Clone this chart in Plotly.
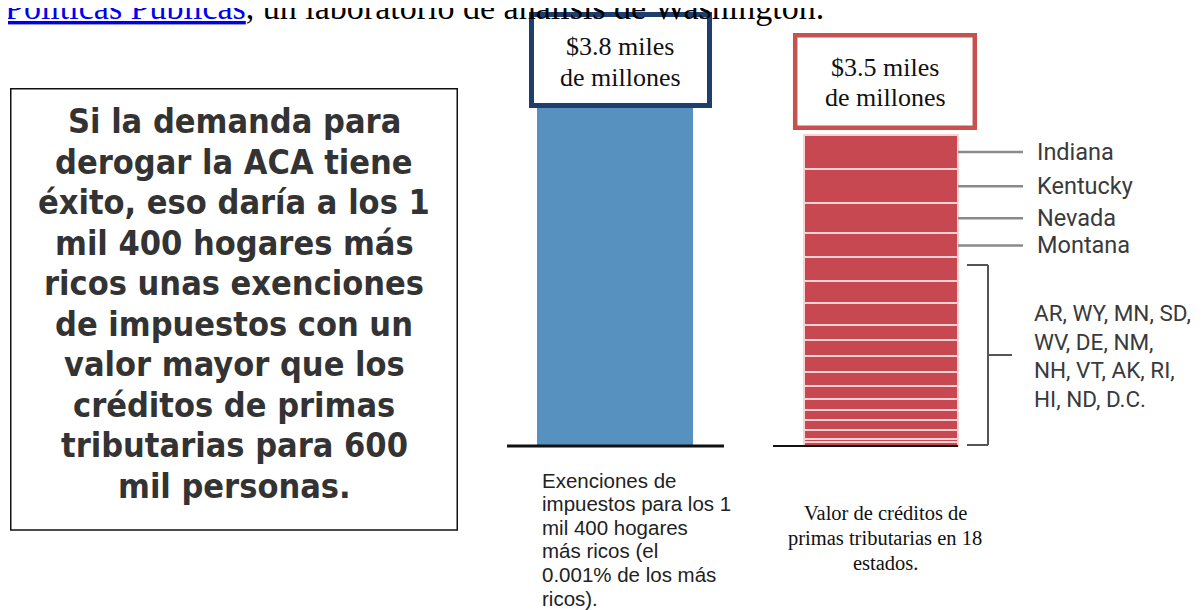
import plotly.graph_objects as go

# ---------------- data ----------------
categories = ["Exenciones de impuestos", "Créditos de primas tributarias"]
exenciones_value = [3.8]          # miles de millones USD
creditos_total = 3.5              # miles de millones USD

named_states = ["Indiana", "Kentucky", "Nevada", "Montana"]
named_values = [0.39, 0.38, 0.34, 0.27]
group_states = ["AR", "WY", "MN", "SD", "WV", "DE", "NM",
                "NH", "VT", "AK", "RI", "HI", "ND", "D.C."]
group_values = [0.27, 0.24, 0.25, 0.17, 0.18, 0.18, 0.15,
                0.15, 0.13, 0.11, 0.11, 0.10, 0.04, 0.04]

box_blue_lines = ["$3.8 miles", "de millones"]
box_red_lines = ["$3.5 miles", "de millones"]
caption_blue = ["Exenciones de", "impuestos para los 1", "mil 400 hogares",
                "más ricos (el", "0.001% de los más", "ricos)."]
caption_red = ["Valor de créditos de", "primas tributarias en 18", "estados."]
group_label_lines = ["AR, WY, MN, SD,", "WV, DE, NM,", "NH, VT, AK, RI,", "HI, ND, D.C."]
side_text = ["Si la demanda para", "derogar la ACA tiene", "éxito, eso daría a los 1",
             "mil 400 hogares más", "ricos unas exenciones", "de impuestos con un",
             "valor mayor que los", "créditos de primas", "tributarias para 600",
             "mil personas."]
top_text = ('<span style="color:#0000ee"><u>Políticas Públicas</u></span>'
            ', un laboratorio de análisis de Washington.')

# ---------------- layout helpers ----------------
W, H = 1204, 610
OFF = 8  # page body margin: figure is drawn 8px right/down in the window
def px(x):
    return (x - OFF) / W
def py(y):
    return 1 - (y - OFF) / H

BLUE = "#5691c0"
RED = "#c84851"

fig = go.Figure()

fig.add_trace(go.Bar(x=[categories[0]], y=exenciones_value, width=0.586,
                     marker=dict(color=BLUE, line=dict(width=0)),
                     hoverinfo="skip"))

all_states = named_states + group_states
all_values = named_values + group_values
# stack from bottom: last state first
for name, val in list(zip(all_states, all_values))[::-1]:
    fig.add_trace(go.Bar(x=[categories[1]], y=[val], width=0.579, name=name,
                         marker=dict(color=RED, line=dict(color="#f7d3d3", width=2)),
                         hoverinfo="skip"))

fig.update_layout(
    width=W, height=H, margin=dict(l=0, r=0, t=0, b=0),
    paper_bgcolor="white", plot_bgcolor="white",
    barmode="stack", showlegend=False,
    xaxis=dict(type="category", range=[-2.2820, 2.2444], visible=False, fixedrange=True),
    yaxis=dict(range=[-1.9337, 4.9243], visible=False, fixedrange=True),
)

shapes = []
# baselines
shapes.append(dict(type="line", xref="paper", yref="y", x0=px(507), x1=px(724), y0=0, y1=0,
                   line=dict(color="#111111", width=3)))
shapes.append(dict(type="line", xref="paper", yref="y", x0=px(773), x1=px(958), y0=0, y1=0,
                   line=dict(color="#111111", width=2)))

# leader lines for named states (at segment centres)
top = creditos_total
centers = []
for v in named_values:
    centers.append(top - v / 2)
    top -= v
for c in centers:
    shapes.append(dict(type="line", xref="paper", yref="y", x0=px(958), x1=px(1023), y0=c, y1=c,
                       line=dict(color="#8a8a8a", width=2.5)))

# bracket for the grouped states
g_top = sum(group_values) - 0.085
g_bot = 0.011
g_mid = (g_top + g_bot) / 2
br = dict(color="#555555", width=2)
shapes += [
    dict(type="line", xref="paper", yref="y", x0=px(967), x1=px(988), y0=g_top, y1=g_top, line=br),
    dict(type="line", xref="paper", yref="y", x0=px(988), x1=px(988), y0=g_top, y1=g_bot, line=br),
    dict(type="line", xref="paper", yref="y", x0=px(967), x1=px(988), y0=g_bot, y1=g_bot, line=br),
    dict(type="line", xref="paper", yref="y", x0=px(988), x1=px(1012), y0=g_mid, y1=g_mid, line=br),
]

# value boxes
shapes.append(dict(type="rect", xref="paper", yref="paper",
                   x0=px(531.5), x1=px(709.5), y0=py(105.5), y1=py(14.5),
                   line=dict(color="#1f3d6d", width=5), fillcolor="white"))
shapes.append(dict(type="rect", xref="paper", yref="paper",
                   x0=px(795.2), x1=px(974.8), y0=py(127.8), y1=py(35.2),
                   line=dict(color="#c65150", width=4.5), fillcolor="white"))
# side text box
shapes.append(dict(type="rect", xref="paper", yref="paper",
                   x0=px(10.75), x1=px(457.25), y0=py(530), y1=py(88.75),
                   line=dict(color="#111111", width=1.5), fillcolor="rgba(0,0,0,0)"))
fig.update_layout(shapes=shapes)

def add_lines(lines, x, y0, dy, font, xanchor="center"):
    for i, t in enumerate(lines):
        fig.add_annotation(text=t, x=px(x), y=py(y0 + dy * i), xref="paper", yref="paper",
                           showarrow=False, xanchor=xanchor, yanchor="middle", font=font)

serif = "Liberation Serif, Times New Roman, serif"
sans = "Liberation Sans, Arial, sans-serif"

# top cut-off sentence
fig.add_annotation(text=top_text, x=px(3), y=py(7), xref="paper", yref="paper",
                   showarrow=False, xanchor="left", yanchor="middle",
                   font=dict(family=serif, size=34, color="#000000"))

# boxes text
add_lines(box_blue_lines, 620, 47, 30, dict(family=serif, size=26, color="#111111"))
add_lines(box_red_lines, 885, 67, 31, dict(family=serif, size=26, color="#111111"))

# captions
add_lines(caption_blue, 540, 480, 23.6, dict(family=sans, size=20.5, color="#222222"), "left")
add_lines(caption_red, 885, 513, 25, dict(family=serif, size=20.5, color="#111111"))

# side statement
add_lines(side_text, 234, 121, 40.5,
          dict(family="DejaVu Sans Condensed, DejaVu Sans, sans-serif", size=34,
               color="#333333", weight="bold"))

# state labels
lab_font = dict(family="Roboto, Liberation Sans, sans-serif", size=23.5, color="#3a3a3a")
for name, c in zip(named_states, centers):
    fig.add_annotation(text=name, x=px(1035), y=c, xref="paper", yref="y",
                       showarrow=False, xanchor="left", yanchor="middle", font=lab_font)
grp_font = dict(family="Roboto, Liberation Sans, sans-serif", size=22.5, color="#3a3a3a")
add_lines(group_label_lines, 1032, 313, 28.5, grp_font, "left")

fig.write_html("out.html")
